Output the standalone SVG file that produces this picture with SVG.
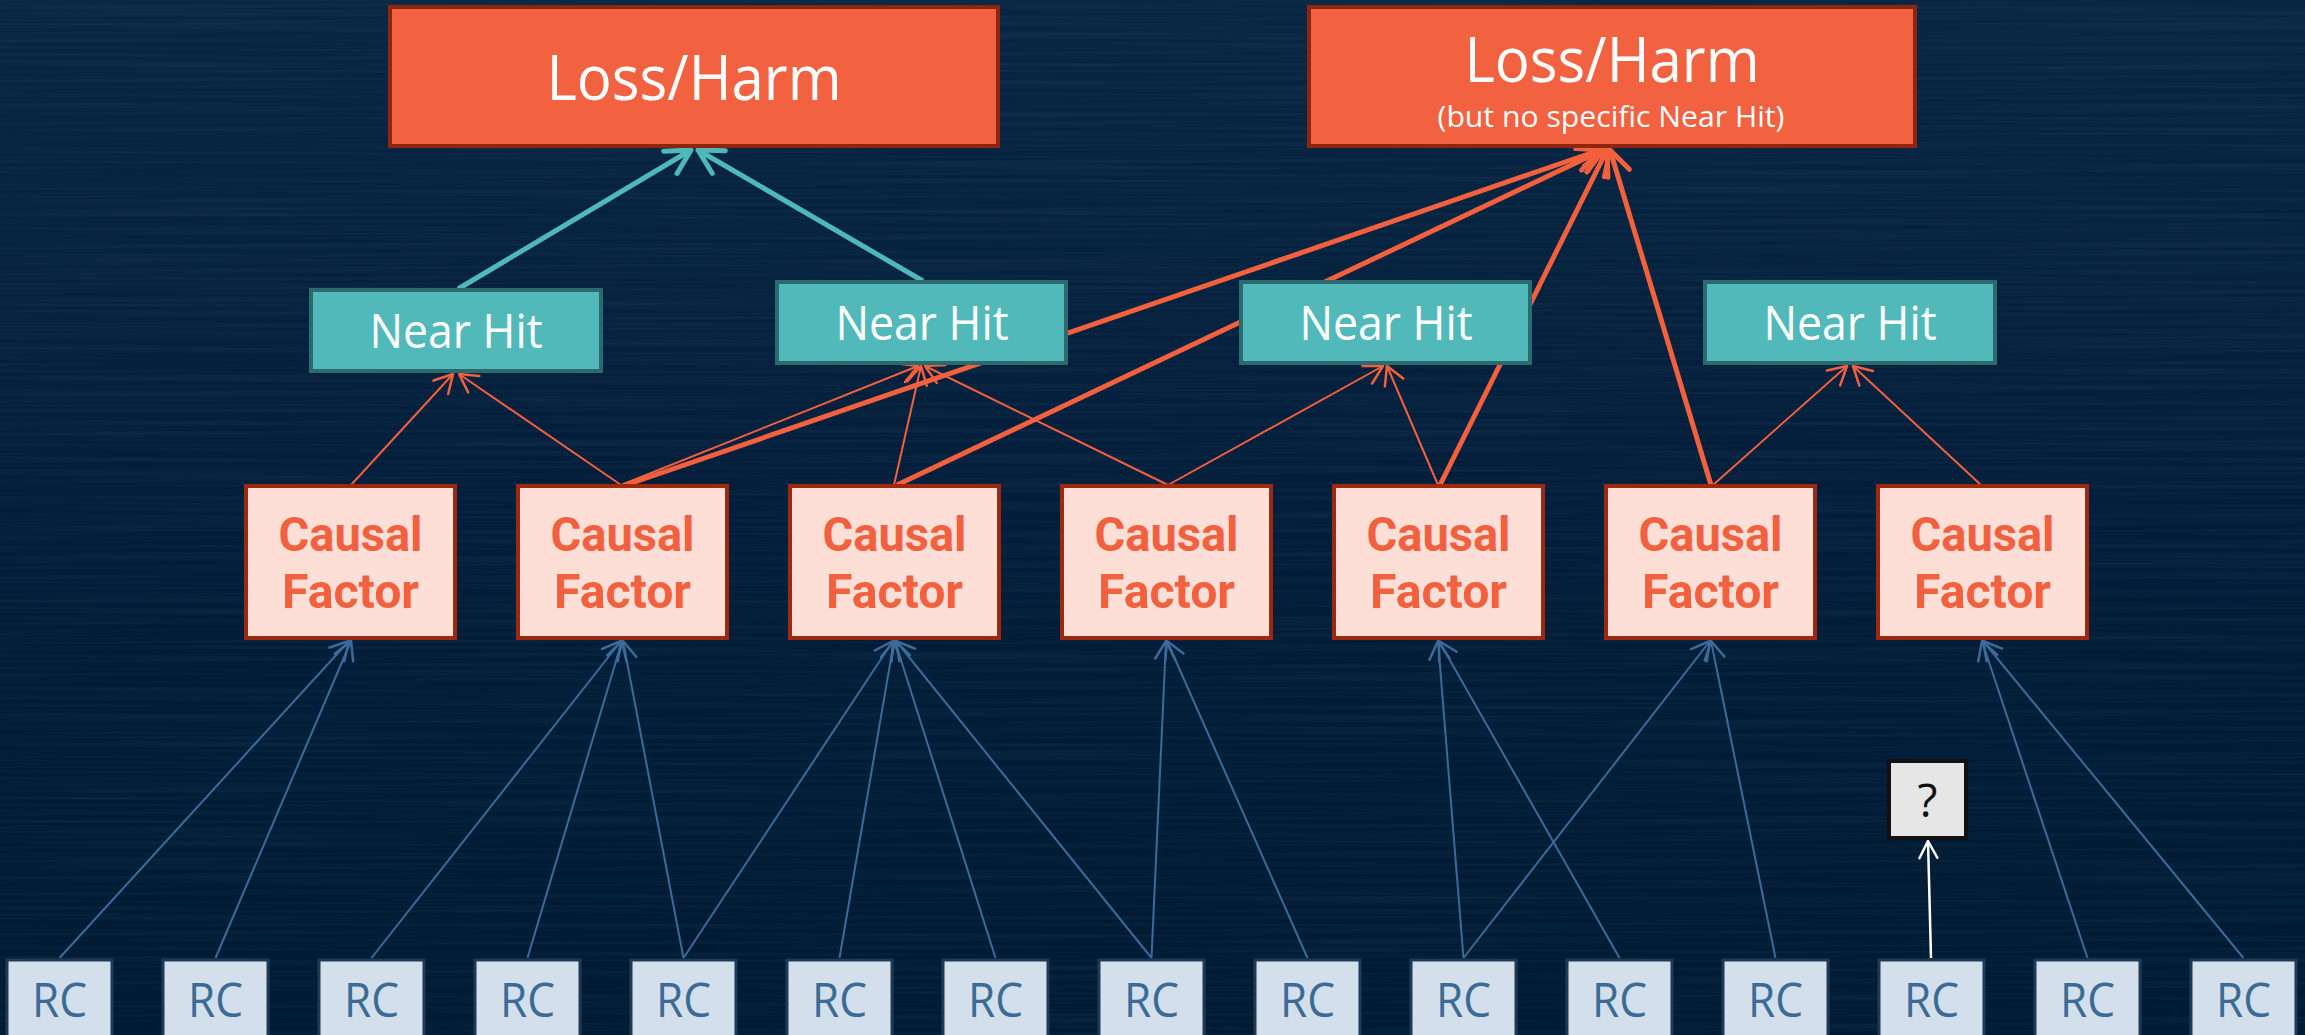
<svg xmlns="http://www.w3.org/2000/svg" width="2305" height="1035" viewBox="0 0 2305 1035">
  <defs>
    <linearGradient id="bg" x1="0" y1="0" x2="0" y2="1">
      <stop offset="0" stop-color="#072643"/>
      <stop offset="0.5" stop-color="#021d39"/>
      <stop offset="1" stop-color="#001a33"/>
    </linearGradient>
    <!-- faint horizontal brushed streaks on the backdrop -->
    <filter id="streaks" x="0" y="0" width="100%" height="100%">
      <feTurbulence type="fractalNoise" baseFrequency="0.0025 0.3" numOctaves="2" seed="7"/>
      <feColorMatrix type="matrix" values="0 0 0 0 0.45  0 0 0 0 0.6  0 0 0 0 0.75  0.12 0 0 0 -0.045"/>
    </filter>
    <marker id="ah-teal" markerUnits="userSpaceOnUse" orient="auto" overflow="visible" refX="0" refY="0" markerWidth="1" markerHeight="1">
      <path d="M-24,-13 L0,0 L-24,13" fill="none" stroke="#4FB8BA" stroke-width="5" stroke-linecap="round" stroke-linejoin="round"/>
    </marker>
    <marker id="ah-red" markerUnits="userSpaceOnUse" orient="auto" overflow="visible" refX="0" refY="0" markerWidth="1" markerHeight="1">
      <path d="M-18,-10 L0,0 L-18,10" fill="none" stroke="#F2603E" stroke-width="2.5" stroke-linecap="round" stroke-linejoin="round"/>
    </marker>
    <marker id="ah-red-bold" markerUnits="userSpaceOnUse" orient="auto" overflow="visible" refX="0" refY="0" markerWidth="1" markerHeight="1">
      <path d="M-24,-13 L0,0 L-24,13" fill="none" stroke="#F2603E" stroke-width="5" stroke-linecap="round" stroke-linejoin="round"/>
    </marker>
    <marker id="ah-blue" markerUnits="userSpaceOnUse" orient="auto" overflow="visible" refX="0" refY="0" markerWidth="1" markerHeight="1">
      <path d="M-18,-10 L0,0 L-18,10" fill="none" stroke="#3B6B99" stroke-width="2.5" stroke-linecap="round" stroke-linejoin="round"/>
    </marker>
    <marker id="ah-white" markerUnits="userSpaceOnUse" orient="auto" overflow="visible" refX="0" refY="0" markerWidth="1" markerHeight="1">
      <path d="M-17,-9 L0,0 L-17,9" fill="none" stroke="#FFFFFF" stroke-width="2.5" stroke-linecap="round" stroke-linejoin="round"/>
    </marker>
  </defs>
  <style>
    .lh rect { fill: #F26140; stroke: #8E260F; stroke-width: 4; }
    .lh text { fill: #FFFFFF; font-family: "Segoe UI", "Open Sans", "Noto Sans", sans-serif; text-anchor: middle; }
    .nh rect { fill: #52B9BB; stroke: #2B6B6D; stroke-width: 4; }
    .nh text { fill: #FFFFFF; font-family: "Segoe UI", "Open Sans", "Noto Sans", sans-serif; font-size: 48px; text-anchor: middle; }
    .cf rect { fill: #FDDFD8; stroke: #9C2810; stroke-width: 4; }
    .cf text { fill: #F2603E; font-family: Roboto, "Liberation Sans", sans-serif; font-weight: bold; font-size: 48px; text-anchor: middle; }
    .rc rect { fill: #D3E0EC; stroke: #1F3A56; stroke-width: 3; }
    .rc text { fill: #3C6B97; font-family: "Segoe UI", "Open Sans", "Noto Sans", sans-serif; font-size: 48px; text-anchor: middle; }
    .unk rect { fill: #E6E6E6; stroke: #111111; stroke-width: 4; }
    .unk text { fill: #111111; font-family: "Segoe UI", "Open Sans", "Noto Sans", sans-serif; font-size: 46px; text-anchor: middle; }
    .teal { stroke: #4FB8BA; stroke-width: 5; fill: none; marker-end: url(#ah-teal); }
    .red { stroke: #F2603E; stroke-width: 2; fill: none; marker-end: url(#ah-red); }
    .red-bold { stroke: #F2603E; stroke-width: 5; fill: none; marker-end: url(#ah-red-bold); }
    .blue { stroke: #3B6B99; stroke-width: 2; fill: none; marker-end: url(#ah-blue); }
    .white { stroke: #FFFFFF; stroke-width: 2.5; fill: none; marker-end: url(#ah-white); }
  </style>

  <rect x="0" y="0" width="2305" height="1035" fill="url(#bg)"/>
  <rect x="0" y="0" width="2305" height="1035" filter="url(#streaks)"/>

  <g id="connectors">
    <!-- near hits up to the first loss -->
    <line class="teal" x1="458" y1="289" x2="691" y2="150"/>
    <line class="teal" x1="923" y1="281" x2="698" y2="150"/>

    <!-- causal factors straight up to the second loss -->
    <line class="red-bold" x1="626" y1="485" x2="1600" y2="150"/>
    <line class="red-bold" x1="897" y1="485" x2="1603" y2="150"/>
    <line class="red-bold" x1="1440" y1="485" x2="1607" y2="150"/>
    <line class="red-bold" x1="1711" y1="485" x2="1610" y2="150"/>

    <!-- causal factors up to near hits -->
    <line class="red" x1="351" y1="485" x2="453" y2="374"/>
    <line class="red" x1="621" y1="485" x2="459" y2="374"/>
    <line class="red" x1="621" y1="485" x2="918" y2="366"/>
    <line class="red" x1="894" y1="485" x2="921" y2="366"/>
    <line class="red" x1="1168" y1="485" x2="925" y2="366"/>
    <line class="red" x1="1168" y1="485" x2="1383" y2="366"/>
    <line class="red" x1="1438" y1="485" x2="1387" y2="366"/>
    <line class="red" x1="1713" y1="485" x2="1847" y2="366"/>
    <line class="red" x1="1981" y1="485" x2="1853" y2="366"/>

    <!-- root causes up to causal factors -->
    <line class="blue" x1="59.5" y1="958" x2="349" y2="641"/>
    <line class="blue" x1="215.5" y1="958" x2="351" y2="641"/>
    <line class="blue" x1="371.5" y1="958" x2="621" y2="641"/>
    <line class="blue" x1="527.5" y1="958" x2="622" y2="641"/>
    <line class="blue" x1="683.5" y1="958" x2="623" y2="641"/>
    <line class="blue" x1="683.5" y1="958" x2="893" y2="641"/>
    <line class="blue" x1="839.5" y1="958" x2="894" y2="641"/>
    <line class="blue" x1="995.5" y1="958" x2="895" y2="641"/>
    <line class="blue" x1="1151.5" y1="958" x2="896" y2="641"/>
    <line class="blue" x1="1151.5" y1="958" x2="1166" y2="641"/>
    <line class="blue" x1="1307.5" y1="958" x2="1167" y2="641"/>
    <line class="blue" x1="1463.5" y1="958" x2="1438" y2="641"/>
    <line class="blue" x1="1619.5" y1="958" x2="1439" y2="641"/>
    <line class="blue" x1="1463.5" y1="958" x2="1710" y2="641"/>
    <line class="blue" x1="1775.5" y1="958" x2="1711" y2="641"/>
    <line class="blue" x1="2087.5" y1="958" x2="1982" y2="641"/>
    <line class="blue" x1="2243.5" y1="958" x2="1983" y2="641"/>

    <!-- root cause with no known factor -->
    <line class="white" x1="1931" y1="958" x2="1928" y2="841"/>
  </g>

  <g id="loss1" class="lh">
    <rect x="390" y="7" width="608" height="139"/>
    <text x="694" y="100" font-size="63" textLength="295" lengthAdjust="spacingAndGlyphs">Loss/Harm</text>
  </g>
  <g id="loss2" class="lh">
    <rect x="1309" y="7" width="606" height="139"/>
    <text x="1612" y="82" font-size="63" textLength="295" lengthAdjust="spacingAndGlyphs">Loss/Harm</text>
    <text x="1611" y="127" font-size="29" textLength="347" lengthAdjust="spacingAndGlyphs">(but no specific Near Hit)</text>
  </g>

  <g id="nearhit1" class="nh">
    <rect x="311" y="290" width="290" height="81"/>
    <text x="456" y="348" textLength="173" lengthAdjust="spacingAndGlyphs">Near Hit</text>
  </g>
  <g id="nearhit2" class="nh">
    <rect x="777" y="282" width="289" height="81"/>
    <text x="922" y="340" textLength="173" lengthAdjust="spacingAndGlyphs">Near Hit</text>
  </g>
  <g id="nearhit3" class="nh">
    <rect x="1241" y="282" width="289" height="81"/>
    <text x="1386" y="340" textLength="173" lengthAdjust="spacingAndGlyphs">Near Hit</text>
  </g>
  <g id="nearhit4" class="nh">
    <rect x="1705" y="282" width="290" height="81"/>
    <text x="1850" y="340" textLength="173" lengthAdjust="spacingAndGlyphs">Near Hit</text>
  </g>

  <g id="factor1" class="cf">
    <rect x="246" y="486" width="209" height="152"/>
    <text x="350.5" y="551" textLength="144" lengthAdjust="spacingAndGlyphs">Causal</text>
    <text x="350.5" y="608" textLength="137" lengthAdjust="spacingAndGlyphs">Factor</text>
  </g>
  <g id="factor2" class="cf">
    <rect x="518" y="486" width="209" height="152"/>
    <text x="622.5" y="551" textLength="144" lengthAdjust="spacingAndGlyphs">Causal</text>
    <text x="622.5" y="608" textLength="137" lengthAdjust="spacingAndGlyphs">Factor</text>
  </g>
  <g id="factor3" class="cf">
    <rect x="790" y="486" width="209" height="152"/>
    <text x="894.5" y="551" textLength="144" lengthAdjust="spacingAndGlyphs">Causal</text>
    <text x="894.5" y="608" textLength="137" lengthAdjust="spacingAndGlyphs">Factor</text>
  </g>
  <g id="factor4" class="cf">
    <rect x="1062" y="486" width="209" height="152"/>
    <text x="1166.5" y="551" textLength="144" lengthAdjust="spacingAndGlyphs">Causal</text>
    <text x="1166.5" y="608" textLength="137" lengthAdjust="spacingAndGlyphs">Factor</text>
  </g>
  <g id="factor5" class="cf">
    <rect x="1334" y="486" width="209" height="152"/>
    <text x="1438.5" y="551" textLength="144" lengthAdjust="spacingAndGlyphs">Causal</text>
    <text x="1438.5" y="608" textLength="137" lengthAdjust="spacingAndGlyphs">Factor</text>
  </g>
  <g id="factor6" class="cf">
    <rect x="1606" y="486" width="209" height="152"/>
    <text x="1710.5" y="551" textLength="144" lengthAdjust="spacingAndGlyphs">Causal</text>
    <text x="1710.5" y="608" textLength="137" lengthAdjust="spacingAndGlyphs">Factor</text>
  </g>
  <g id="factor7" class="cf">
    <rect x="1878" y="486" width="209" height="152"/>
    <text x="1982.5" y="551" textLength="144" lengthAdjust="spacingAndGlyphs">Causal</text>
    <text x="1982.5" y="608" textLength="137" lengthAdjust="spacingAndGlyphs">Factor</text>
  </g>

  <g id="unknown" class="unk">
    <rect x="1889" y="761" width="77" height="77"/>
    <text x="1927.5" y="817">?</text>
  </g>

  <g id="rc1" class="rc"><rect x="7" y="960" width="105" height="90"/><text x="59.5" y="1017" textLength="55" lengthAdjust="spacingAndGlyphs">RC</text></g>
  <g id="rc2" class="rc"><rect x="163" y="960" width="105" height="90"/><text x="215.5" y="1017" textLength="55" lengthAdjust="spacingAndGlyphs">RC</text></g>
  <g id="rc3" class="rc"><rect x="319" y="960" width="105" height="90"/><text x="371.5" y="1017" textLength="55" lengthAdjust="spacingAndGlyphs">RC</text></g>
  <g id="rc4" class="rc"><rect x="475" y="960" width="105" height="90"/><text x="527.5" y="1017" textLength="55" lengthAdjust="spacingAndGlyphs">RC</text></g>
  <g id="rc5" class="rc"><rect x="631" y="960" width="105" height="90"/><text x="683.5" y="1017" textLength="55" lengthAdjust="spacingAndGlyphs">RC</text></g>
  <g id="rc6" class="rc"><rect x="787" y="960" width="105" height="90"/><text x="839.5" y="1017" textLength="55" lengthAdjust="spacingAndGlyphs">RC</text></g>
  <g id="rc7" class="rc"><rect x="943" y="960" width="105" height="90"/><text x="995.5" y="1017" textLength="55" lengthAdjust="spacingAndGlyphs">RC</text></g>
  <g id="rc8" class="rc"><rect x="1099" y="960" width="105" height="90"/><text x="1151.5" y="1017" textLength="55" lengthAdjust="spacingAndGlyphs">RC</text></g>
  <g id="rc9" class="rc"><rect x="1255" y="960" width="105" height="90"/><text x="1307.5" y="1017" textLength="55" lengthAdjust="spacingAndGlyphs">RC</text></g>
  <g id="rc10" class="rc"><rect x="1411" y="960" width="105" height="90"/><text x="1463.5" y="1017" textLength="55" lengthAdjust="spacingAndGlyphs">RC</text></g>
  <g id="rc11" class="rc"><rect x="1567" y="960" width="105" height="90"/><text x="1619.5" y="1017" textLength="55" lengthAdjust="spacingAndGlyphs">RC</text></g>
  <g id="rc12" class="rc"><rect x="1723" y="960" width="105" height="90"/><text x="1775.5" y="1017" textLength="55" lengthAdjust="spacingAndGlyphs">RC</text></g>
  <g id="rc13" class="rc"><rect x="1879" y="960" width="105" height="90"/><text x="1931.5" y="1017" textLength="55" lengthAdjust="spacingAndGlyphs">RC</text></g>
  <g id="rc14" class="rc"><rect x="2035" y="960" width="105" height="90"/><text x="2087.5" y="1017" textLength="55" lengthAdjust="spacingAndGlyphs">RC</text></g>
  <g id="rc15" class="rc"><rect x="2191" y="960" width="105" height="90"/><text x="2243.5" y="1017" textLength="55" lengthAdjust="spacingAndGlyphs">RC</text></g>
</svg>
